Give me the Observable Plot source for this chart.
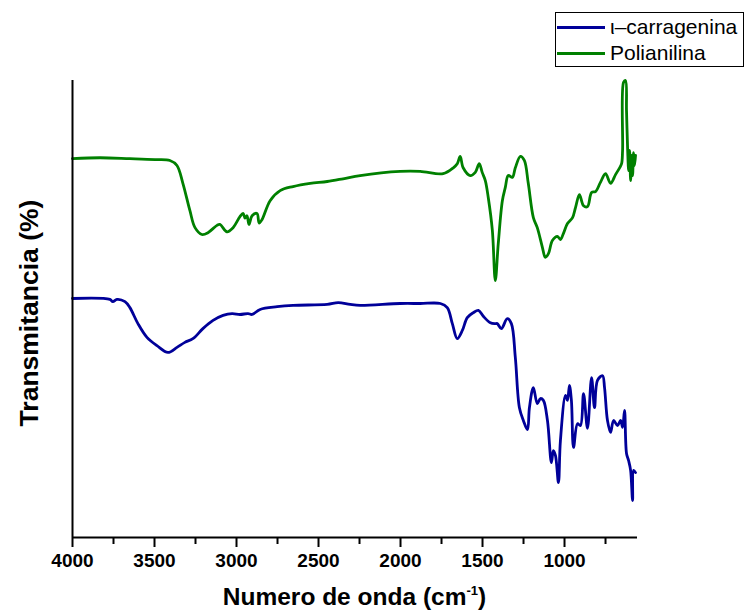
<!DOCTYPE html>
<html>
<head>
<meta charset="utf-8">
<script src="https://cdn.jsdelivr.net/npm/d3@7"></script>
<script src="https://cdn.jsdelivr.net/npm/@observablehq/plot@0.6"></script>
<style>
  body { margin: 0; background: #fff; font-family: Arial, "Liberation Sans", sans-serif; }
  #wrap { position: relative; width: 746px; height: 615px; }
  #legend {
    position: absolute; left: 555px; top: 12px; width: 189px; height: 55px;
    border: 1px solid #000; box-sizing: border-box; font-size: 21px; color: #000;
  }
  .row { position: absolute; left: 1px; height: 24px; display: flex; align-items: center; white-space: nowrap; }
  .swatch { width: 48px; height: 3px; margin-right: 5px; }
  #xlabel {
    position: absolute; left: 72px; width: 565px; top: 583px; text-align: center;
    font-weight: bold; font-size: 24.5px; color: #000; white-space: nowrap;
  }
  #xlabel sup { font-size: 13px; position: relative; top: -1px; }
</style>
</head>
<body>
<div id="wrap">
  <div id="chart"></div>
  <div id="legend">
    <div class="row" style="top:2px"><div class="swatch" style="background:#000099"></div>ι–carragenina</div>
    <div class="row" style="top:28px"><div class="swatch" style="background:#008000"></div>Polianilina</div>
  </div>
  <div id="xlabel">Numero de onda (cm<sup>-1</sup>)</div>
</div>
<script>
// FTIR spectra: wavenumber (cm^-1) and transmittance (arbitrary, offset curves)
const greenWn = [4000, 3833, 3650, 3497, 3406, 3363, 3327, 3284, 3253, 3211, 3174, 3119, 3101, 3058, 3021,
  2979, 2960, 2948, 2936, 2924, 2905, 2875, 2862, 2844, 2795, 2734, 2655, 2551, 2447, 2350, 2246, 2002,
  1880, 1740, 1678, 1654, 1636, 1618, 1575, 1544, 1520, 1502, 1483, 1465, 1440, 1422, 1404, 1379, 1361,
  1343, 1318, 1300, 1269, 1245, 1221, 1190, 1166, 1135, 1117, 1098, 1074, 1043, 1025, 1007, 982, 951,
  933, 909, 884, 860, 835, 811, 781, 750, 719, 689, 664, 652, 646, 640, 628, 622, 615, 609, 603, 597,
  591, 585, 579, 573, 567];
const greenT = [82.9, 83.1, 82.9, 82.7, 82.5, 81.4, 77.5, 71.5, 67.8, 66.3, 66.7, 68.3, 68.5, 66.9, 67.8,
  70.2, 70.9, 69.9, 70.4, 68.5, 70.4, 70.9, 68.8, 69.6, 73.7, 75.9, 76.8, 77.5, 77.9, 78.5, 79.2, 80.1,
  80.1, 79.6, 80.9, 81.8, 83.4, 80.9, 79.2, 79.9, 81.8, 79.9, 78.1, 74.4, 67.2, 56.2, 64.3, 73.7, 76.6,
  79.2, 78.8, 80.9, 83.4, 82.5, 77.5, 70.0, 67.8, 63.5, 61.3, 62.1, 65.0, 65.9, 65.2, 66.5, 68.7, 70.0,
  72.2, 75.0, 72.6, 72.4, 75.5, 75.7, 77.7, 79.6, 77.5, 79.4, 80.9, 81.8, 84.7, 99.6, 100, 93.4, 84.7, 80.3,
  84.7, 78.1, 83.6, 79.2, 84.2, 81.4, 83.6];

const blueWn = [4000, 3772, 3754, 3729, 3680, 3650, 3601, 3546, 3485, 3418, 3363, 3315, 3266, 3205, 3143,
  3082, 3027, 2979, 2930, 2905, 2856, 2752, 2655, 2447, 2380, 2307, 2246, 2002, 1880, 1757, 1715, 1684,
  1654, 1623, 1593, 1556, 1525, 1495, 1452, 1422, 1410, 1385, 1349, 1324, 1300, 1275, 1251, 1226, 1214,
  1190, 1166, 1147, 1129, 1104, 1080, 1068, 1055, 1037, 1025, 994, 982, 970, 958, 945, 921, 903, 884,
  860, 835, 817, 799, 768, 756, 738, 719, 701, 677, 658, 646, 634, 622, 609, 597, 585, 579, 567];
const blueT = [52.3, 52.1, 51.6, 52.1, 51.6, 50.3, 46.8, 43.8, 42.0, 40.5, 41.6, 42.7, 43.5, 45.7, 47.5,
  48.6, 49.0, 48.8, 49.0, 48.8, 49.9, 50.5, 50.8, 51.0, 51.4, 51.0, 50.8, 51.2, 51.2, 51.2, 50.3, 46.8,
  43.5, 45.3, 48.1, 49.2, 49.7, 48.4, 47.0, 46.8, 46.8, 45.7, 47.9, 46.8, 39.4, 28.4, 25.6, 23.6, 28.4,
  32.8, 29.3, 30.4, 30.0, 25.6, 16.4, 19.0, 17.9, 12.0, 21.2, 31.1, 30.0, 33.3, 30.0, 19.7, 24.9, 24.5, 31.5,
  23.9, 35.0, 28.4, 34.4, 35.4, 32.8, 25.6, 23.0, 25.6, 24.5, 25.6, 24.1, 27.8, 18.4, 16.8, 14.7, 8.1, 14.7, 14.2];

const majorTicks = [4000, 3500, 3000, 2500, 2000, 1500, 1000];
const minorTicks = [3750, 3250, 2750, 2250, 1750, 1250, 750];

const green = greenWn.map((w, i) => ({wn: w, t: greenT[i]}));
const blue = blueWn.map((w, i) => ({wn: w, t: blueT[i]}));

const chart = Plot.plot({
  width: 746,
  height: 615,
  marginLeft: 72,
  marginRight: 109,
  marginTop: 80,
  marginBottom: 78,
  style: {fontFamily: "Arial, 'Liberation Sans', sans-serif", color: "#000", background: "#fff"},
  x: {domain: [4000, 555]},
  y: {domain: [0, 100], axis: null},
  marks: [
    Plot.axisX({ticks: minorTicks, tickSize: 7, tickFormat: () => "", label: null, strokeWidth: 2}),
    Plot.axisX({ticks: majorTicks, tickSize: 10, tickFormat: () => "", label: null, strokeWidth: 2}),
    // tick labels for the wavenumber axis
    Plot.text(majorTicks, {
      x: d => d, text: d => String(d), frameAnchor: "bottom", lineAnchor: "top", dy: 16,
      fontSize: 19, fontWeight: "bold", fill: "#000"
    }),
    Plot.line(blue, {x: "wn", y: "t", stroke: "#000099", strokeWidth: 2.8, curve: "catmull-rom"}),
    Plot.line(green, {x: "wn", y: "t", stroke: "#008000", strokeWidth: 2.8, curve: "catmull-rom"}),
    Plot.ruleY([0], {stroke: "#000", strokeWidth: 2}),
    Plot.ruleX([4000], {stroke: "#000", strokeWidth: 2}),
    Plot.text(["Transmitancia (%)"], {
      frameAnchor: "left", dx: -43, dy: 4, rotate: -90, text: d => d, textAnchor: "middle",
      fontSize: 26.5, fontWeight: "bold", fill: "#000"
    })
  ]
});
document.getElementById("chart").appendChild(chart);
</script>
</body>
</html>
